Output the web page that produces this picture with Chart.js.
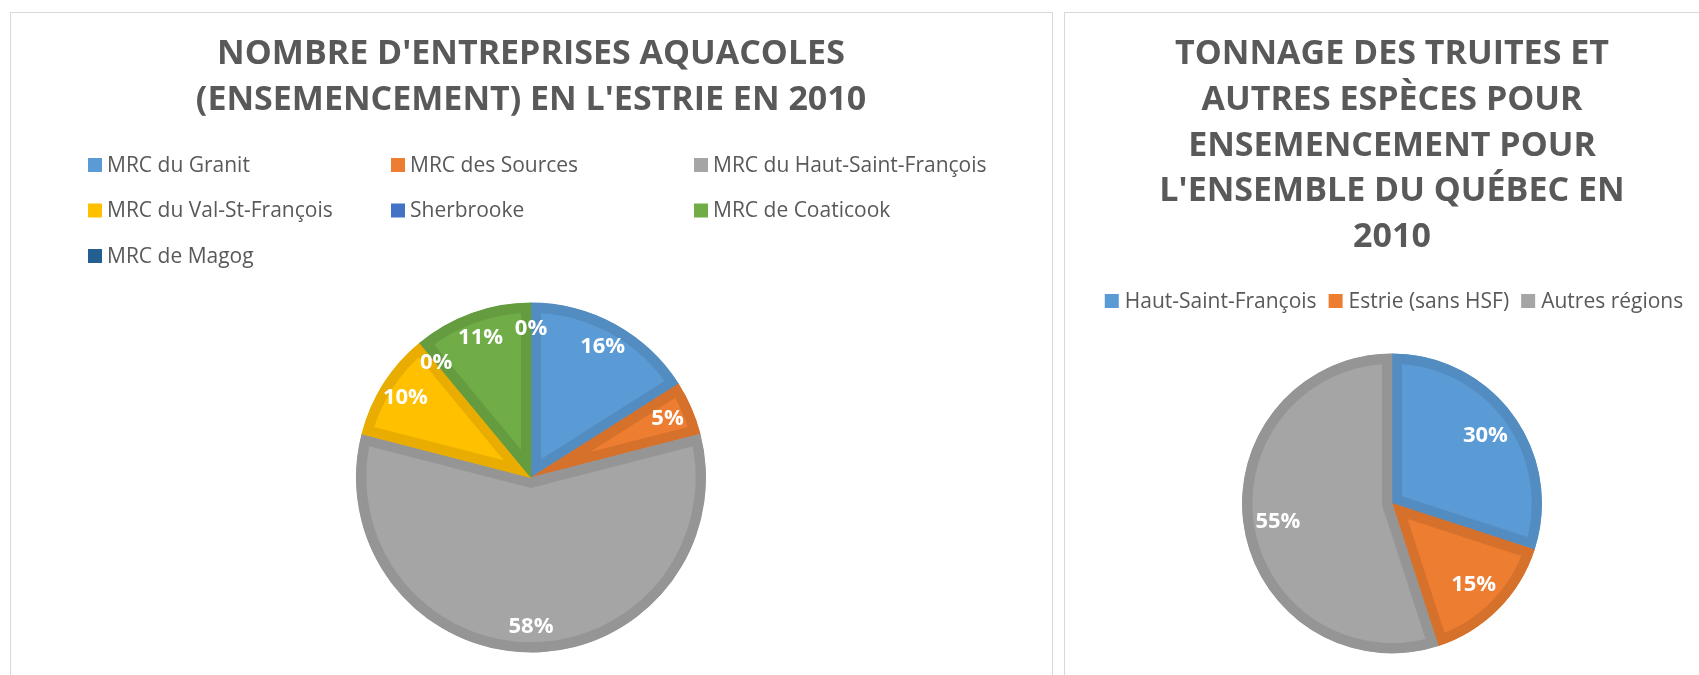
<!DOCTYPE html>
<html lang="fr">
<head>
<meta charset="utf-8">
<script src="https://cdn.jsdelivr.net/npm/chart.js@4.4.1/dist/chart.umd.min.js"></script>
<style>
  html, body { margin: 0; padding: 0; background: #fff; overflow: hidden; width: 1699px; height: 675px; }
  .panel { position: absolute; border: 1px solid #d9d9d9; border-bottom: none; }
  #p1 { left: 10px; top: 12px; width: 1041px; height: 700px; }
  #p2 { left: 1064px; top: 12px; width: 700px; height: 700px; }
  .panel canvas { position: absolute; left: 0; top: 0; }
</style>
</head>
<body>
<div class="panel" id="p1"><canvas id="chartEntreprises" width="1040" height="662"></canvas></div>
<div class="panel" id="p2"><canvas id="chartTonnage" width="650" height="662"></canvas></div>
<script>
// graphique 1 : entreprises aquacoles en Estrie
const mrcEstrie = ["MRC du Granit", "MRC des Sources", "MRC du Haut-Saint-François",
  "MRC du Val-St-François", "Sherbrooke", "MRC de Coaticook", "MRC de Magog"];
const entreprisesPct = [16, 5, 58, 10, 0, 11, 0];
const couleursEstrie = ["#5B9BD5", "#ED7D31", "#A5A5A5", "#FFC000", "#4472C4", "#70AD47", "#255E91"];
const bordsEstrie = ["#528CC1", "#D6712C", "#959595", "#E8AD00", "#3E67B0", "#659C40", "#214F80"];

// graphique 2 : tonnage pour le Québec
const regionsQuebec = ["Haut-Saint-François", "Estrie (sans HSF)", "Autres régions"];
const tonnagePct = [30, 15, 55];
const couleursQuebec = ["#5B9BD5", "#ED7D31", "#A5A5A5"];
const bordsQuebec = ["#528CC1", "#D6712C", "#959595"];

const FONT = "'Open Sans', sans-serif";
const GRIS = "#595959";

// legende maison (grille a gauche, une ligne centree a droite)
const legendeMaison = {
  id: "legendeMaison",
  afterDraw(chart, args, opts) {
    const ctx = chart.ctx;
    const ds = chart.data.datasets[0];
    ctx.save();
    ctx.font = opts.size + "px " + FONT;
    ctx.textBaseline = "middle";
    ctx.textAlign = "left";
    const items = chart.data.labels.map((text, i) => ({
      text, color: ds.backgroundColor[i],
      w: opts.box + opts.gap + ctx.measureText(text).width,
    }));
    const dessine = (it, x, y) => {
      ctx.fillStyle = it.color;
      ctx.fillRect(x, y - opts.box / 2, opts.box, opts.box);
      ctx.fillStyle = GRIS;
      ctx.fillText(it.text, x + opts.box + opts.gap, y + 1);
    };
    if (opts.columns) {
      items.forEach((it, i) => {
        const col = i % opts.columns;
        const row = Math.floor(i / opts.columns);
        dessine(it, opts.left + col * opts.colWidth, opts.top + row * opts.rowHeight);
      });
    } else {
      const total = items.reduce((s, it) => s + it.w, 0) + opts.spacing * (items.length - 1);
      let x = opts.centerX - total / 2;
      items.forEach((it) => {
        dessine(it, x, opts.top);
        x += it.w + opts.spacing;
      });
    }
    ctx.restore();
  },
};

// etiquettes en pourcentage dans les pointes
const etiquettesPct = {
  id: "etiquettesPct",
  afterDatasetsDraw(chart, args, opts) {
    const ctx = chart.ctx;
    const values = chart.data.datasets[0].data;
    const total = values.reduce((a, b) => a + b, 0);
    const meta = chart.getDatasetMeta(0);
    ctx.save();
    ctx.font = "bold " + opts.size + "px " + FONT;
    ctx.fillStyle = "#ffffff";
    ctx.textAlign = "center";
    ctx.textBaseline = "middle";
    meta.data.forEach((arc, i) => {
      const p = arc.getProps(["x", "y", "startAngle", "endAngle", "outerRadius"], true);
      const mid = (p.startAngle + p.endAngle) / 2;
      const r = p.outerRadius * opts.dist;
      ctx.fillText(Math.round(values[i] / total * 100) + "%", p.x + Math.cos(mid) * r, p.y + Math.sin(mid) * r);
    });
    ctx.restore();
  },
};

new Chart(document.getElementById("chartEntreprises"), {
  type: "pie",
  data: {
    labels: mrcEstrie,
    datasets: [{
      data: entreprisesPct,
      backgroundColor: couleursEstrie,
      borderColor: bordsEstrie,
      borderWidth: 10,
      borderAlign: "inner",
      borderJoinStyle: "miter",
      clip: false,
    }],
  },
  options: {
    responsive: false,
    animation: false,
    events: [],
    radius: 175,
    layout: { padding: { left: 0, right: 0, top: 0, bottom: 18 } },
    plugins: {
      legend: { display: false },
      tooltip: { enabled: false },
      title: {
        display: true,
        text: ["NOMBRE D'ENTREPRISES AQUACOLES", "(ENSEMENCEMENT) EN L'ESTRIE EN 2010"],
        color: GRIS,
        font: { family: FONT, size: 34, weight: "bold", lineHeight: 1.34 },
        padding: { top: 19, bottom: 175 },
      },
      legendeMaison: { size: 21, box: 14, gap: 5, columns: 3, left: 77, colWidth: 303, top: 152, rowHeight: 45.5 },
      etiquettesPct: { size: 22, dist: 0.85 },
    },
  },
  plugins: [legendeMaison, etiquettesPct],
});

new Chart(document.getElementById("chartTonnage"), {
  type: "pie",
  data: {
    labels: regionsQuebec,
    datasets: [{
      data: tonnagePct,
      backgroundColor: couleursQuebec,
      borderColor: bordsQuebec,
      borderWidth: 10,
      borderAlign: "inner",
      borderJoinStyle: "miter",
      clip: false,
    }],
  },
  options: {
    responsive: false,
    animation: false,
    events: [],
    radius: 150,
    layout: { padding: { left: 4, right: 0, top: 0, bottom: 11 } },
    plugins: {
      legend: { display: false },
      tooltip: { enabled: false },
      title: {
        display: true,
        text: ["TONNAGE DES TRUITES ET", "AUTRES ESPÈCES POUR", "ENSEMENCEMENT POUR", "L'ENSEMBLE DU QUÉBEC EN", "2010"],
        color: GRIS,
        font: { family: FONT, size: 34, weight: "bold", lineHeight: 1.34 },
        padding: { top: 19, bottom: 83 },
      },
      legendeMaison: { size: 21, box: 14, gap: 6, spacing: 12, centerX: 329, top: 288 },
      etiquettesPct: { size: 22, dist: 0.77 },
    },
  },
  plugins: [legendeMaison, etiquettesPct],
});
</script>
</body>
</html>
